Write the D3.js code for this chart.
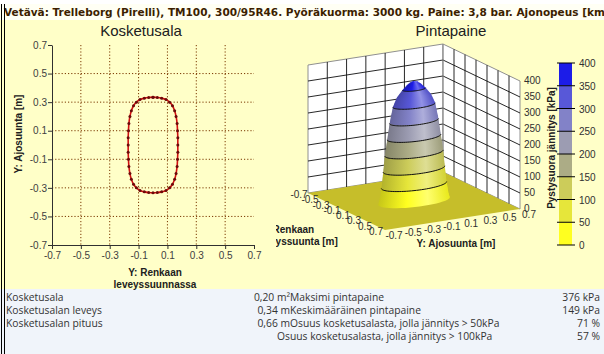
<!DOCTYPE html>
<html>
<head>
<meta charset="utf-8">
<script src="https://cdn.jsdelivr.net/npm/d3@7"></script>
<style>
body { margin: 0; background: #fff; }
svg { display: block; }
</style>
</head>
<body>
<div id="chart"></div>
<script>
// --- data ---
var titleText = "Vetävä: Trelleborg (Pirelli), TM100, 300/95R46. Pyöräkuorma: 3000 kg. Paine: 3,8 bar. Ajonopeus [km/h]: 10";

var axisTicks = [-0.7, -0.5, -0.3, -0.1, 0.1, 0.3, 0.5, 0.7];
var gridTicks = [-0.5, -0.3, -0.1, 0.1, 0.3, 0.5];

// contact outline (left chart), x = width direction, y = driving direction
var contourX = [0.00, 0.03, 0.06, 0.09, 0.115, 0.135, 0.150, 0.160, 0.167, 0.170, 0.172, 0.172,
                0.172, 0.170, 0.167, 0.160, 0.150, 0.135, 0.115, 0.09, 0.06, 0.03, 0.00,
                -0.03, -0.06, -0.09, -0.115, -0.135, -0.150, -0.160, -0.167, -0.170, -0.172, -0.172,
                -0.172, -0.170, -0.167, -0.160, -0.150, -0.135, -0.115, -0.09, -0.06, -0.03, 0.00];
var contourY = [0.335, 0.333, 0.328, 0.318, 0.300, 0.275, 0.240, 0.200, 0.150, 0.100, 0.050, 0.000,
                -0.050, -0.100, -0.150, -0.200, -0.240, -0.275, -0.300, -0.318, -0.328, -0.333, -0.335,
                -0.333, -0.328, -0.318, -0.300, -0.275, -0.240, -0.200, -0.150, -0.100, -0.050, 0.000,
                0.050, 0.100, 0.150, 0.200, 0.240, 0.275, 0.300, 0.318, 0.328, 0.333, 0.335];

// pressure profile of the peak: fraction of contact half-size vs pressure (kPa)
var profileR = [1.08, 1.04, 1.00, 0.97, 0.93, 0.88, 0.81, 0.73, 0.64, 0.52, 0.35, 0.24, 0.12, 0.0];
var profileP = [0, 15, 40, 60, 100, 150, 200, 255, 300, 328, 350, 362, 372, 376];

var pressureTicks = [0, 50, 100, 150, 200, 250, 300, 350, 400];
var bandColors = ["#ffff20", "#e6e63a", "#cccc5a", "#acac86", "#9c9cb2", "#8282c8", "#5858d8", "#1c1ce8"];

var contactWidth = 0.34, contactLength = 0.66;

var tableLabels = ["Kosketusala", "Kosketusalan leveys", "Kosketusalan pituus", ""];
var tableValues = ["0,20 m²", "0,34 m", "0,66 m", ""];
var statLabels = ["Maksimi pintapaine", "Keskimääräinen pintapaine",
                  "Osuus kosketusalasta, jolla jännitys > 50kPa", "Osuus kosketusalasta, jolla jännitys > 100kPa"];
var statValues = ["376 kPa", "149 kPa", "71 %", "57 %"];

// --- page ---
var W = 604, H = 354;
var svg = d3.select("#chart").append("svg").attr("width", W).attr("height", H);
var defs = svg.append("defs");

svg.append("rect").attr("x", 0).attr("y", 0).attr("width", W).attr("height", H).attr("fill", "#fff");
svg.append("rect").attr("x", 0).attr("y", 4).attr("width", W).attr("height", 16).attr("fill", "#fffff4");
svg.append("rect").attr("x", 0).attr("y", 20).attr("width", W).attr("height", 269).attr("fill", "#ffffc8");
svg.append("rect").attr("x", 0).attr("y", 289).attr("width", W).attr("height", 65).attr("fill", "#f0f4fa");

svg.append("text").attr("x", 4).attr("y", 16)
    .attr("font-family", "DejaVu Sans, Verdana, sans-serif").attr("font-size", 10.5).attr("font-weight", "bold")
    .attr("fill", "#3c1e00").text(titleText);

// ================= left chart: Kosketusala =================
var xScale = d3.scaleLinear().domain([-0.7, 0.7]).range([52, 254]);
var yScale = d3.scaleLinear().domain([-0.7, 0.7]).range([245, 45]);
var left = svg.append("g");

left.append("text").attr("x", 141).attr("y", 36).attr("text-anchor", "middle")
    .attr("font-family", "Liberation Sans, Arial, sans-serif").attr("font-size", 15).attr("fill", "#202020")
    .text("Kosketusala");

left.selectAll(".vgrid").data(gridTicks).enter().append("line")
    .attr("x1", d => xScale(d)).attr("x2", d => xScale(d))
    .attr("y1", yScale(0.7)).attr("y2", yScale(-0.7))
    .attr("stroke", "#7a3800").attr("stroke-dasharray", "1.2,2");
left.selectAll(".hgrid").data(gridTicks).enter().append("line")
    .attr("y1", d => yScale(d)).attr("y2", d => yScale(d))
    .attr("x1", xScale(-0.7)).attr("x2", xScale(0.7))
    .attr("stroke", "#7a3800").attr("stroke-dasharray", "1.2,2");

var fmt = d => d.toFixed(1);
var yAxis = d3.axisLeft(yScale).tickValues(axisTicks).tickFormat(fmt).tickSizeInner(4).tickSizeOuter(0);
var xAxis = d3.axisBottom(xScale).tickValues(axisTicks).tickFormat(fmt).tickSizeInner(4).tickSizeOuter(0);
var gy = left.append("g").attr("transform", `translate(${xScale(-0.7)},0)`).call(yAxis);
var gx = left.append("g").attr("transform", `translate(0,${yScale(-0.7)})`).call(xAxis);
[gx, gy].forEach(function(g) {
    g.select(".domain").attr("stroke", "#303030");
    g.selectAll(".tick line").attr("stroke", "#303030");
    g.selectAll("text").attr("font-family", "Liberation Sans, Arial, sans-serif").attr("font-size", 10).attr("fill", "#404040");
});
gy.selectAll("text").attr("x", -5);

left.append("text").attr("transform", "translate(22,134) rotate(-90)").attr("text-anchor", "middle")
    .attr("font-family", "Liberation Sans, Arial, sans-serif").attr("font-size", 10).attr("font-weight", "bold")
    .attr("fill", "#202020").text("Y: Ajosuunta [m]");
left.append("text").attr("x", 155).attr("y", 276).attr("text-anchor", "middle")
    .attr("font-family", "Liberation Sans, Arial, sans-serif").attr("font-size", 10).attr("font-weight", "bold")
    .attr("fill", "#202020").text("Y: Renkaan");
left.append("text").attr("x", 155).attr("y", 288).attr("text-anchor", "middle")
    .attr("font-family", "Liberation Sans, Arial, sans-serif").attr("font-size", 10).attr("font-weight", "bold")
    .attr("fill", "#202020").text("leveyssuunnassa");

var outline = contourX.map((x, i) => ({x: x, y: contourY[i]}));
var line = d3.line().x(d => xScale(d.x)).y(d => yScale(d.y)).curve(d3.curveCatmullRom);
left.append("path").datum(outline).attr("d", line)
    .attr("fill", "none").attr("stroke", "#d01010").attr("stroke-width", 1.6);
left.selectAll(".pt").data(outline).enter().append("circle")
    .attr("cx", d => xScale(d.x)).attr("cy", d => yScale(d.y)).attr("r", 1.5)
    .attr("fill", "#6a0a0a");

// ================= right chart: Pintapaine (3D) =================
var right = svg.append("g");
right.append("text").attr("x", 451).attr("y", 36).attr("text-anchor", "middle")
    .attr("font-family", "Liberation Sans, Arial, sans-serif").attr("font-size", 15).attr("fill", "#202020")
    .text("Pintapaine");

var uScale = d3.scaleLinear().domain([-0.7, 0.7]).range([0, 1]);
var zScale = d3.scaleLinear().domain([0, 400]).range([0, 128]);
var L = [308, 193], XV = [77, 37], YV = [135, -21];
function proj(x, y, z) {
    var u = uScale(x), v = uScale(y);
    return [L[0] + u * XV[0] + v * YV[0], L[1] + u * XV[1] + v * YV[1] - zScale(z)];
}
var poly = d3.line();

// back wall (x = -0.7)
right.append("path").attr("d", poly([proj(-0.7,-0.7,0), proj(-0.7,0.7,0), proj(-0.7,0.7,400), proj(-0.7,-0.7,400)]) + "Z")
    .attr("fill", "#fff").attr("stroke", "#909090");
// right wall (y = 0.7)
right.append("path").attr("d", poly([proj(-0.7,0.7,0), proj(0.7,0.7,0), proj(0.7,0.7,400), proj(-0.7,0.7,400)]) + "Z")
    .attr("fill", "#fff").attr("stroke", "#909090");
var gridG = right.append("g").attr("stroke", "#101010").attr("stroke-width", 0.9).attr("fill", "none");
axisTicks.slice(1, -1).forEach(function(t) {
    gridG.append("path").attr("d", poly([proj(-0.7, t, 0), proj(-0.7, t, 400)]));
    gridG.append("path").attr("d", poly([proj(t, 0.7, 0), proj(t, 0.7, 400)]));
});
pressureTicks.slice(1, -1).forEach(function(p) {
    gridG.append("path").attr("d", poly([proj(-0.7, -0.7, p), proj(-0.7, 0.7, p), proj(0.7, 0.7, p)]));
});
gridG.append("path").attr("d", poly([proj(-0.7, 0.7, 0), proj(-0.7, 0.7, 400)])).attr("stroke", "#909090");

// floor
right.append("path").attr("d", poly([proj(-0.7,-0.7,0), proj(0.7,-0.7,0), proj(0.7,0.7,0), proj(-0.7,0.7,0)]) + "Z")
    .attr("fill", "#c6be2a");

// band gradients for shading the peak
bandColors.forEach(function(c, i) {
    var g = defs.append("linearGradient").attr("id", "band" + i);
    var base = d3.color(c);
    g.append("stop").attr("offset", "0%").attr("stop-color", base.darker(0.7));
    g.append("stop").attr("offset", "40%").attr("stop-color", base);
    g.append("stop").attr("offset", "70%").attr("stop-color", d3.interpolateRgb(c, "#ffffff")(0.35));
    g.append("stop").attr("offset", "100%").attr("stop-color", base.darker(0.25));
});

var halfX = contactWidth / 2, halfY = contactLength / 2;
var tAngles = d3.range(0, 49).map(i => i / 48 * 2 * Math.PI);
function ringPoints(r, z, ts) {
    return ts.map(t => proj(r * halfX * Math.cos(t), r * halfY * Math.sin(t), z));
}
function radiusAt(p) {
    for (var i = 0; i < profileP.length - 1; i++) {
        if (p >= profileP[i] && p <= profileP[i + 1]) {
            var f = (p - profileP[i]) / (profileP[i + 1] - profileP[i]);
            return profileR[i] + f * (profileR[i + 1] - profileR[i]);
        }
    }
    return 0;
}
var bandOf = p => Math.min(bandColors.length - 1, Math.floor(p / 50));

var peak = right.append("g");
var slices = [];
for (var i = 0; i < profileP.length - 1; i++) {
    var steps = Math.max(1, Math.ceil((profileP[i + 1] - profileP[i]) / 3));
    for (var s = 0; s < steps; s++) {
        var p = profileP[i] + (profileP[i + 1] - profileP[i]) * s / steps;
        slices.push({p: p, r: profileR[i] + (profileR[i + 1] - profileR[i]) * s / steps});
    }
}
peak.selectAll(".slice").data(slices).enter().append("path")
    .attr("d", d => poly(ringPoints(d.r, d.p, tAngles)) + "Z")
    .attr("fill", d => "url(#band" + bandOf(d.p + 0.01) + ")");

// contour lines (front arcs)
var ax = halfX * XV[0] / 1.4, bx = halfY * YV[0] / 1.4;
var t0 = Math.atan2(bx, ax);
var frontTs = d3.range(0, 41).map(i => t0 + i / 40 * Math.PI);
var backTs = d3.range(0, 41).map(i => t0 + Math.PI + i / 40 * Math.PI);
pressureTicks.slice(1, -1).forEach(function(p) {
    var r = radiusAt(p);
    var a = ringPoints(r, p, frontTs), b = ringPoints(r, p, backTs);
    var arc = d3.mean(a, d => d[1]) > d3.mean(b, d => d[1]) ? a : b;
    peak.append("path").attr("d", poly(arc)).attr("fill", "none").attr("stroke", "#101010").attr("stroke-width", 1);
});

// 3D axis labels
var lab = right.append("g").attr("font-family", "Liberation Sans, Arial, sans-serif").attr("font-size", 10).attr("fill", "#303030");
pressureTicks.forEach(function(p) {
    var q = proj(0.7, 0.7, p);
    lab.append("text").attr("x", q[0] + 4).attr("y", q[1] + 3).text(p);
});
axisTicks.forEach(function(t) {
    var q = proj(t, -0.7, 0);
    lab.append("text").attr("x", q[0] - 9).attr("y", q[1] + 5).attr("text-anchor", "middle").text(fmt(t));
    var w = proj(0.7, t, 0);
    lab.append("text").attr("x", w[0] + 9).attr("y", w[1] + 9).attr("text-anchor", "middle").text(fmt(t));
});
lab.append("text").attr("x", 456).attr("y", 247).attr("text-anchor", "middle").attr("font-weight", "bold")
    .attr("fill", "#202020").text("Y: Ajosuunta [m]");
defs.append("clipPath").attr("id", "clipL").append("rect").attr("x", 276).attr("y", 200).attr("width", 100).attr("height", 60);
var xt = lab.append("g").attr("clip-path", "url(#clipL)").attr("font-weight", "bold").attr("fill", "#202020");
xt.append("text").attr("x", 287).attr("y", 233).attr("text-anchor", "middle").text("X: Renkaan");
xt.append("text").attr("x", 297).attr("y", 245).attr("text-anchor", "middle").text("leveyssuunta [m]");

// colour bar
var cScale = d3.scaleLinear().domain([0, 400]).range([245, 63]);
var cb = right.append("g");
cb.selectAll(".band").data(bandColors).enter().append("rect")
    .attr("x", 559).attr("width", 13)
    .attr("y", (d, i) => cScale((i + 1) * 50)).attr("height", (d, i) => cScale(i * 50) - cScale((i + 1) * 50))
    .attr("fill", d => d);
cb.selectAll(".tk").data(pressureTicks).enter().append("line")
    .attr("x1", 557).attr("x2", 575).attr("y1", d => cScale(d)).attr("y2", d => cScale(d))
    .attr("stroke", "#000").attr("stroke-width", 1);
cb.selectAll(".tl").data(pressureTicks).enter().append("text")
    .attr("x", 579).attr("y", d => cScale(d) + 4)
    .attr("font-family", "Liberation Sans, Arial, sans-serif").attr("font-size", 10).attr("fill", "#303030")
    .text(d => d);
cb.append("text").attr("transform", "translate(555,148) rotate(-90)").attr("text-anchor", "middle")
    .attr("font-family", "Liberation Sans, Arial, sans-serif").attr("font-size", 10).attr("font-weight", "bold")
    .attr("fill", "#202020").text("Pystysuora jännitys [kPa]");

// ================= table =================
var tbl = svg.append("g").attr("font-family", "Open Sans, Noto Sans, sans-serif").attr("font-size", 10.3).attr("fill", "#333");
var rowY = [301, 314, 327, 340];
tableLabels.forEach((d, i) => tbl.append("text").attr("x", 6).attr("y", rowY[i]).text(d));
tableValues.forEach((d, i) => tbl.append("text").attr("x", 290).attr("y", rowY[i]).attr("text-anchor", "end").text(d));
statLabels.forEach((d, i) => tbl.append("text").attr("x", i < 3 ? 290 : 277).attr("y", rowY[i]).text(d));
statValues.forEach((d, i) => tbl.append("text").attr("x", 600).attr("y", rowY[i]).attr("text-anchor", "end").text(d));

// left double border
svg.append("line").attr("x1", 1.5).attr("x2", 1.5).attr("y1", 4).attr("y2", H).attr("stroke", "#000");
svg.append("line").attr("x1", 4.5).attr("x2", 4.5).attr("y1", 4).attr("y2", H).attr("stroke", "#000");
</script>
</body>
</html>
